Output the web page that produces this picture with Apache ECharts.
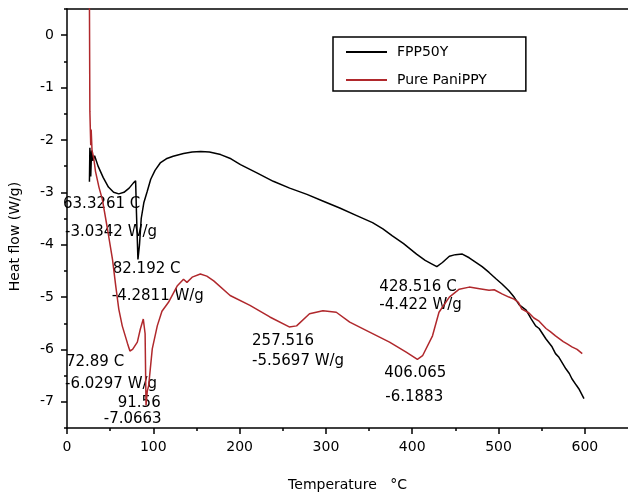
<!DOCTYPE html>
<html>
<head>
<meta charset="utf-8">
<script src="https://cdn.jsdelivr.net/npm/echarts@6/dist/echarts.min.js"></script>
<style>
html, body { margin: 0; padding: 0; background: #fff; }
#main { width: 628px; height: 497px; }
</style>
</head>
<body>
<div id="main"></div>
<script>
// DSC curves, [temperature C, heat flow W/g]
var fpp50y = [
    [26, -2.8], [26.5, -2.15], [27.5, -2.7], [28.5, -2.2], [30, -2.4], [32, -2.3], [36, -2.5],
    [42, -2.72], [48, -2.9], [54, -3.0], [60, -3.03], [66, -3.0], [72, -2.92], [77, -2.82],
    [79.5, -2.78], [80.5, -3.4], [82.2, -4.28], [84, -4.0], [86, -3.5], [89, -3.2], [93, -2.98],
    [97, -2.75], [102, -2.58], [108, -2.44], [115, -2.36], [123, -2.31], [135, -2.26], [145, -2.23],
    [155, -2.22], [165, -2.23], [178, -2.28], [190, -2.36], [201, -2.47], [220, -2.63], [239, -2.79],
    [258, -2.92], [278, -3.04], [297, -3.17], [316, -3.3], [335, -3.44], [354, -3.58], [366, -3.7],
    [377, -3.83], [390, -3.98], [405, -4.18], [415, -4.3], [423, -4.37], [428.5, -4.42], [435, -4.34],
    [443, -4.22], [450, -4.19], [458, -4.18], [466, -4.25], [475, -4.35], [481, -4.42], [489, -4.53],
    [497, -4.65], [504, -4.75], [512, -4.88], [518, -5.0], [524, -5.15], [532, -5.25], [538, -5.42],
    [543, -5.55], [547, -5.6], [555, -5.8], [562, -5.95], [566, -6.08], [570, -6.15], [578, -6.37],
    [582, -6.46], [585, -6.56], [590, -6.68], [593, -6.75], [599, -6.94]
];
var paniPPY = [
    [26, 0.6], [26.5, -1.45], [27.5, -2.1], [28, -1.8], [29, -2.2], [31, -2.35], [33, -2.6],
    [37, -2.9], [41, -3.14], [47, -3.71], [52.7, -4.28], [56.5, -4.79], [60, -5.23], [64, -5.55],
    [70, -5.88], [72.9, -6.03], [76, -6.0], [81.5, -5.86], [85, -5.61], [88.4, -5.42], [90.5, -5.7],
    [91.56, -7.07], [93, -6.8], [94.6, -6.69], [98.8, -5.99], [104.6, -5.55], [110, -5.27],
    [117.6, -5.1], [127.6, -4.79], [135, -4.66], [139, -4.72], [145, -4.62], [154.5, -4.56],
    [162, -4.6], [170, -4.69], [189, -4.97], [212, -5.16], [235, -5.38], [257.5, -5.57], [266, -5.55],
    [281, -5.32], [296.5, -5.26], [312, -5.29], [327.6, -5.48], [350.6, -5.67], [373.7, -5.86],
    [393, -6.05], [406, -6.19], [412, -6.12], [423.5, -5.74], [431, -5.29], [443, -5.0], [454.5, -4.85],
    [466, -4.81], [478, -4.84], [489, -4.87], [495, -4.86], [504, -4.94], [512, -5.0], [518, -5.04],
    [523, -5.1], [527, -5.23], [535, -5.3], [541, -5.4], [547, -5.46], [555, -5.6], [560, -5.66],
    [566, -5.74], [575, -5.85], [580, -5.9], [585, -5.95], [591, -6.0], [597, -6.08]
];

// peak annotations: text and where it sits (temperature, heat flow)
var annotTexts = ['63.3261 C', '-3.0342 W/g', '82.192 C', '-4.2811 W/g', '72.89 C', '-6.0297 W/g',
    '91.56', '-7.0663', '257.516', '-5.5697 W/g', '406.065', '-6.1883', '428.516 C', '-4.422 W/g'];
var annotT = [-4.6, -2.3, 53, 51.9, -1.2, -2.3, 58.8, 42.6, 214.4, 214.4, 367.6, 368.8, 361.9, 361.9];
var annotHF = [-3.233, -3.767, -4.471, -4.986, -6.243, -6.662, -7.024, -7.33, -5.843, -6.224,
    -6.452, -6.909, -4.814, -5.157];

var xMajor = [0, 100, 200, 300, 400, 500, 600];
var xMinor = [50, 150, 250, 350, 450, 550];
var yMajor = [0, -1, -2, -3, -4, -5, -6, -7];
var yMinor = [0.5, -0.5, -1.5, -2.5, -3.5, -4.5, -5.5, -6.5, -7.5];

var font = 'DejaVu Sans';
var annotData = [];
for (var i = 0; i < annotTexts.length; i++) {
    annotData.push({ name: annotTexts[i], value: [annotT[i], annotHF[i]] });
}

function xAx(ticks, len, labels, pos) {
    return {
        type: 'value', min: 0, max: 650, position: pos,
        axisLine: { show: labels || pos == 'top', onZero: false, lineStyle: { color: '#000', width: 1.5 } },
        axisTick: { show: !!ticks, customValues: ticks || [], length: len, lineStyle: { color: '#000', width: 1.5 } },
        axisLabel: labels ? { customValues: xMajor, color: '#000', fontFamily: font, fontSize: 14, margin: 12 } : { show: false },
        splitLine: { show: false },
        name: labels ? 'Temperature   \u00b0C' : '',
        nameLocation: 'middle', nameGap: 50,
        nameTextStyle: { color: '#000', fontFamily: font, fontSize: 14 }
    };
}
function yAx(ticks, len, labels) {
    return {
        type: 'value', min: -7.5, max: 0.5, position: 'left',
        axisLine: { show: labels, onZero: false, lineStyle: { color: '#000', width: 1.5 } },
        axisTick: { show: true, customValues: ticks, length: len, lineStyle: { color: '#000', width: 1.5 } },
        axisLabel: labels ? { customValues: yMajor, color: '#000', fontFamily: font, fontSize: 14, margin: 13 } : { show: false },
        splitLine: { show: false },
        name: labels ? 'Heat flow (W/g)' : '',
        nameLocation: 'middle', nameGap: 45,
        nameTextStyle: { color: '#000', fontFamily: font, fontSize: 14, padding: [0, 36, 0, 0] }
    };
}

var myChart = echarts.init(document.getElementById('main'));
var option = {
    animation: false,
    backgroundColor: '#fff',
    grid: { left: 66, right: -2, top: 9, bottom: 68 },
    legend: {
        data: ['FPP50Y', 'Pure PaniPPY'],
        orient: 'vertical', left: 333, top: 37,
        padding: [7, 39, 3, 13], itemGap: 12,
        icon: 'rect', itemWidth: 41, itemHeight: 2,
        borderColor: '#000', borderWidth: 1.5,
        textStyle: { color: '#000', fontFamily: font, fontSize: 14, lineHeight: 16, padding: [0, 0, 0, 5] }
    },
    xAxis: [xAx(xMajor, 6, true, 'bottom'), xAx(xMinor, 3, false, 'bottom'), xAx(null, 0, false, 'top')],
    yAxis: [yAx(yMajor, 6, true), yAx(yMinor, 3, false)],
    series: [{
        name: 'FPP50Y', type: 'line', data: fpp50y, showSymbol: false, symbol: 'none',
        color: '#000', lineStyle: { color: '#000', width: 1.5 }
    }, {
        name: 'Pure PaniPPY', type: 'line', data: paniPPY, showSymbol: false, symbol: 'none',
        color: '#b0282c', lineStyle: { color: '#b0282c', width: 1.5 }
    }, {
        type: 'scatter', data: annotData, symbolSize: 0, clip: false, silent: true,
        itemStyle: { opacity: 1 },
        label: {
            show: true, position: 'right', distance: 0, formatter: '{b}',
            color: '#000', opacity: 1, fontFamily: font, fontSize: 15
        }
    }]
};
myChart.setOption(option);
</script>
</body>
</html>
